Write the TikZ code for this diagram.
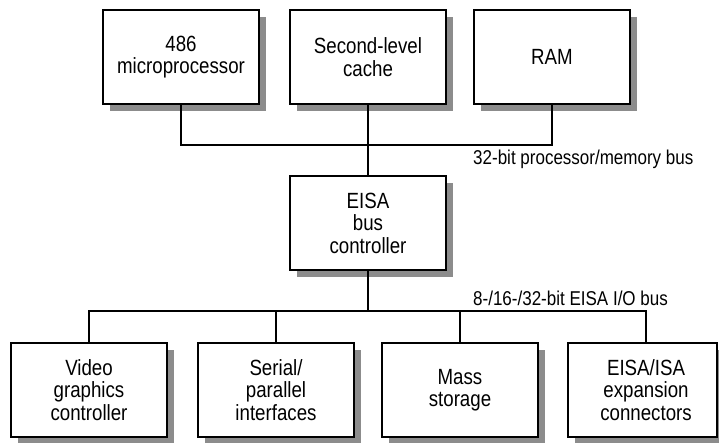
\documentclass[tikz,border=0pt]{standalone}
\usepackage{fontspec}
\setmainfont{Liberation Sans}[FakeStretch=0.85]
\usetikzlibrary{shadows}
\tikzset{
  boxfont/.style={font=\fontsize{22}{22.5}\selectfont},
  box/.style={draw, line width=1.3pt, fill=white, minimum width=156pt, minimum height=94pt,
    align=center, inner sep=0pt, boxfont,
    drop shadow={shadow xshift=6.5pt, shadow yshift=-6.5pt, fill=black!45, opacity=1}},
  bus/.style={line width=1.3pt},
  lbl/.style={font=\fontsize{20}{22}\selectfont, inner sep=0pt, anchor=base west}
}
\begin{document}
\begin{tikzpicture}[x=1pt,y=-1pt]
\useasboundingbox (0,0) rectangle (719,442);
% top row
\node[box] (cpu) at (181,57) {486\\microprocessor};
\node[box] (cache) at (368,57) {Second-level\\cache};
\node[box] (ram) at (552,57) {RAM};
% controller
\node[box] (eisa) at (368,223) {EISA\\bus\\controller};
% bottom row
\node[box] (vid) at (89,390) {Video\\graphics\\controller};
\node[box] (ser) at (276,390) {Serial/\\parallel\\interfaces};
\node[box] (mass) at (460,390) {Mass\\storage};
\fill[black!45] (574.5,349.5) rectangle (719,443.5);
\node[draw=none, fill=white, minimum width=149pt, minimum height=94pt, inner sep=0pt] (expbg) at (642.5,390) {};
\draw[line width=1.3pt] (568,343) rectangle (717,437);
\node[align=center, inner sep=0pt, boxfont] (exp) at (646,390) {EISA/ISA\\expansion\\connectors};
% top bus
\coordinate (tb1) at (cpu.south |- 0,145);
\coordinate (tb2) at (ram.south |- 0,145);
\draw[bus] (cpu.south) -- (tb1) -- (tb2) -- (ram.south);
\draw[bus] (cache.south) -- (eisa.north);
\node[lbl] (tlabel) at (473,164) {32-bit processor/memory bus};
% bottom bus
\coordinate (bb0) at (eisa.south |- 0,311);
\coordinate (bb1) at (vid.north |- 0,311);
\coordinate (bb4) at (exp.center |- 0,311);
\coordinate (bb4b) at (exp.center |- 0,343);
\draw[bus] (eisa.south) -- (bb0);
\draw[bus] (vid.north) -- (bb1) -- (bb4) -- (bb4b);
\draw[bus] (ser.north) -- (ser.north |- bb0);
\draw[bus] (mass.north) -- (mass.north |- bb0);
\node[lbl] (blabel) at (473,305) {8-/16-/32-bit EISA I/O bus};
\end{tikzpicture}
\end{document}
